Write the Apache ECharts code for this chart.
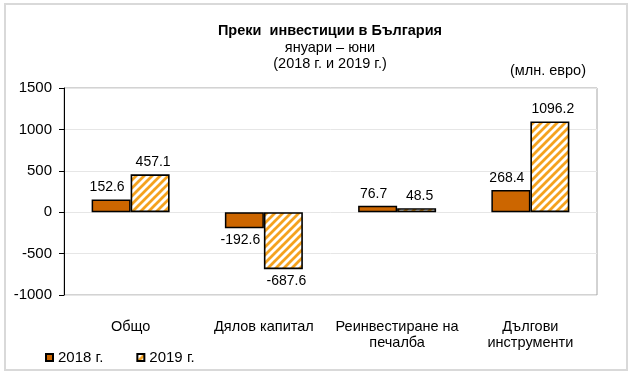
<!DOCTYPE html>
<html>
<head>
<meta charset="utf-8">
<script src="https://cdn.jsdelivr.net/npm/echarts@6/dist/echarts.min.js"></script>
<style>
html,body{margin:0;padding:0;background:#fff;}
#chart{width:630px;height:373px;}
</style>
</head>
<body>
<div id="chart"></div>
<script>
const categories = ['Общо', 'Дялов капитал', 'Реинвестиране на\nпечалба', 'Дългови\nинструменти'];
const seriesNames = ['2018 г.', '2019 г.'];
const values2018 = [152.6, -192.6, 76.7, 268.4];
const values2019 = [457.1, -687.6, 48.5, 1096.2];
const yTicks = { min: -1000, max: 1500, interval: 500 };
const titleLines = ['Преки  инвестиции в България', 'януари – юни', '(2018 г. и 2019 г.)'];
const unitLabel = '(млн. евро)';

const FONT = '"Liberation Sans", Arial, sans-serif';

function stripePattern() {
  const c = document.createElement('canvas');
  const s = 8;
  c.width = s; c.height = s;
  const g = c.getContext('2d');
  g.fillStyle = '#ffffff';
  g.fillRect(0, 0, s, s);
  g.strokeStyle = '#F5A21E';
  g.lineWidth = 2.8;
  g.beginPath();
  g.moveTo(-1, s + 1); g.lineTo(s + 1, -1);
  g.moveTo(-1, 1); g.lineTo(1, -1);
  g.moveTo(s - 1, s + 1); g.lineTo(s + 1, s - 1);
  g.stroke();
  return c;
}

const chart = echarts.init(document.getElementById('chart'), null, { renderer: 'canvas' });
const labelCommon = {
  show: true,
  position: 'outside',
  distance: 5,
  color: '#000',
  fontSize: 14,
  fontFamily: FONT,
  formatter: p => p.value.toFixed(1)
};

chart.setOption({
  animation: false,
  backgroundColor: '#fff',
  textStyle: { fontFamily: FONT, color: '#000' },
  title: [
    { text: titleLines[0], left: 330, top: 23, textAlign: 'center', padding: 0,
      textStyle: { fontSize: 14.5, fontWeight: 'bold', color: '#000', fontFamily: FONT } },
    { text: titleLines[1], left: 330, top: 40, textAlign: 'center', padding: 0,
      textStyle: { fontSize: 14.5, fontWeight: 'normal', color: '#000', fontFamily: FONT } },
    { text: titleLines[2], left: 330, top: 56, textAlign: 'center', padding: 0,
      textStyle: { fontSize: 14.5, fontWeight: 'normal', color: '#000', fontFamily: FONT } },
    { text: unitLabel, right: 44, top: 63, padding: 0,
      textStyle: { fontSize: 14.5, fontWeight: 'normal', color: '#000', fontFamily: FONT } }
  ],
  graphic: [
    { type: 'rect', shape: { x: 5, y: 4, width: 622, height: 366 },
      style: { fill: 'none', stroke: '#D9D9D9', lineWidth: 2 }, silent: true, z: -1 }
  ],
  legend: {
    left: 40, top: 345,
    itemWidth: 7, itemHeight: 7,
    itemGap: 33,
    icon: 'rect',
    textStyle: { fontSize: 15, color: '#000', fontFamily: FONT },
    data: seriesNames
  },
  grid: {
    left: 64, right: 33, top: 88, bottom: 78,
    show: true, borderColor: '#A6A6A6', borderWidth: 1, backgroundColor: 'transparent'
  },
  xAxis: {
    type: 'category',
    data: categories,
    axisLine: { show: false },
    axisTick: { show: false },
    axisLabel: { margin: 24, fontSize: 14.5, color: '#000', fontFamily: FONT, lineHeight: 16, interval: 0 }
  },
  yAxis: {
    type: 'value',
    min: yTicks.min, max: yTicks.max, interval: yTicks.interval,
    axisLine: { show: true, lineStyle: { color: '#000', width: 1 } },
    axisTick: { show: true, length: 5, lineStyle: { color: '#000' } },
    axisLabel: { margin: 12, fontSize: 15, color: '#000', fontFamily: FONT, formatter: v => String(v) },
    splitLine: { show: true, lineStyle: { color: '#E6E6E6', width: 1 } }
  },
  series: [
    {
      name: seriesNames[0], type: 'bar', data: values2018,
      barWidth: 39, barGap: '0%',
      itemStyle: { color: '#CC6600', borderColor: '#000', borderWidth: 1.5 },
      label: Object.assign({}, labelCommon, { offset: [-4, 0] })
    },
    {
      name: seriesNames[1], type: 'bar', data: values2019,
      barWidth: 39, barGap: '0%',
      itemStyle: { color: { image: stripePattern(), repeat: 'repeat' }, borderColor: '#000', borderWidth: 1.6 },
      label: Object.assign({}, labelCommon, { offset: [3, 0] })
    }
  ]
});
</script>
</body>
</html>
